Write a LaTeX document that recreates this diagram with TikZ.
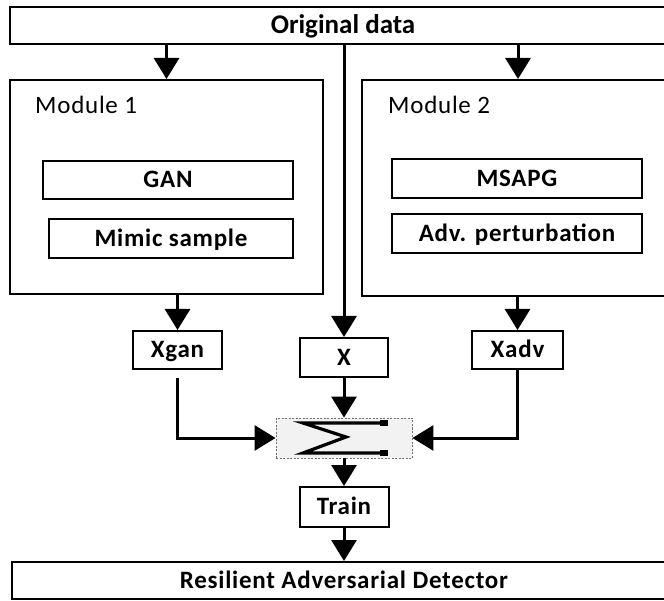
\documentclass[tikz,border=0pt]{standalone}
\usepackage{fontspec}
\setmainfont{Carlito}
\newfontfamily\spacedfont{Carlito}[LetterSpace=3]
\usetikzlibrary{arrows.meta}

\newcommand\boxlabel{\fontsize{25}{30}\selectfont\spacedfont\bfseries}
\newcommand\headlabel{\fontsize{27}{32}\selectfont\bfseries}
\newcommand\modlabel{\fontsize{25}{30}\selectfont\spacedfont}

\tikzset{
  box/.style={draw=black, line width=2pt, fill=white, inner sep=0pt,
    font=\boxlabel, text height=15.8pt, text depth=0pt},
  modbox/.style={draw=black, line width=2pt, inner sep=0pt},
  flow/.style={line width=3pt, -{Triangle[width=25pt,length=21pt]}},
  sumbox/.style={draw=black!55, dash pattern=on 2pt off 1.5pt, line width=0.9pt,
    fill=black!5, inner sep=0pt},
}

\begin{document}
\begin{tikzpicture}[x=1pt, y=-1pt]
\useasboundingbox (0,0) rectangle (664,601);

% input and output bars
\node[box, font=\headlabel, text height=17pt, minimum width=666pt, minimum height=37pt] (orig) at (343,25.5) {Original data};
\node[box, minimum width=664pt, minimum height=37pt] (det) at (344,580.5) {Resilient Adversarial Detector};

% the two generation modules
\node[modbox, minimum width=313pt, minimum height=214pt] (mod1) at (166.5,187) {};
\node[modbox, minimum width=312pt, minimum height=216pt] (mod2) at (518,188) {};
\node[font=\modlabel, anchor=base west, inner sep=0pt] (mod1lbl) at (35,114) {Module 1};
\node[font=\modlabel, anchor=base west, inner sep=0pt] (mod2lbl) at (388,114) {Module 2};

\node[box, minimum width=250pt, minimum height=38pt] (gan) at (168,180) {GAN};
\node[box, minimum width=244pt, minimum height=39pt] (mimic) at (171,238.5) {Mimic sample};
\node[box, minimum width=250pt, minimum height=39pt] (msapg) at (517,178.5) {MSAPG};
\node[box, minimum width=250pt, minimum height=39pt] (pert) at (517,233.5) {Adv. perturbation};

% sample sets
\node[box, minimum width=89pt, minimum height=38pt] (xgan) at (177.5,350) {Xgan};
\node[box, minimum width=88pt, minimum height=39pt] (xorig) at (344,357.5) {X};
\node[box, minimum width=91pt, minimum height=38pt] (xadv) at (517.5,350) {Xadv};

% summation block
\node[sumbox, minimum width=136pt, minimum height=40pt] (sum) at (344,438) {};
\begin{scope}[shift={(sum.center)}]
  \draw[line width=3.2pt, line join=miter] (43,-15) -- (-41,-15) -- (2,-1) -- (-41,15) -- (43,15);
  \fill (36,-18) rectangle (44,-12);
  \fill (36,12) rectangle (44,18);
\end{scope}

\node[box, minimum width=89pt, minimum height=40pt] (train) at (344,507) {Train};

% connectors
\draw[flow] (orig.south -| mod1.north) -- (mod1.north);
\draw[flow] (orig.south -| mod2.north) -- (mod2.north);
\draw[flow] (orig.south -| xorig.north) -- (xorig.north);
\draw[flow] (mod1.south -| xgan.north) -- (xgan.north);
\draw[flow] (mod2.south -| xadv.north) -- (xadv.north);
\draw[flow, shorten <=8pt] (xgan.south) |- (sum.west);
\draw[flow] (xadv.south) |- (sum.east);
\draw[flow] (xorig.south) -- (sum.north);
\draw[flow] (sum.south) -- (train.north);
\draw[flow] (train.south) -- (det.north);
\end{tikzpicture}
\end{document}
